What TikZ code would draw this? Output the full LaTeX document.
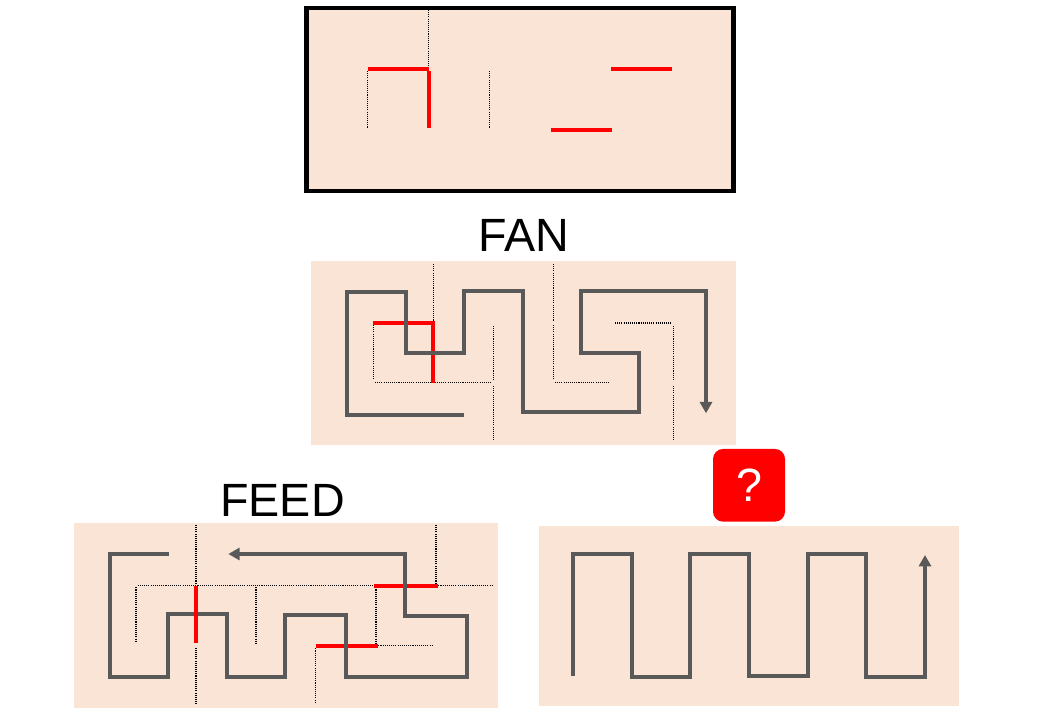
\documentclass[tikz,border=0pt]{standalone}
\usepackage{fontspec}
\setmainfont{Liberation Sans}
\usetikzlibrary{arrows.meta}
\definecolor{panelfill}{HTML}{FAE4D6}
\definecolor{routegray}{HTML}{595959}
\definecolor{hotred}{HTML}{FF0000}
\tikzset{
  panel/.style={fill=panelfill,draw=none},
  route/.style={draw=routegray,line width=3pt,line join=miter},
  routearrow/.style={route,-{Triangle[length=8.5pt,width=9pt]}},
  hot/.style={draw=hotred,line width=3.2pt},
  thin dots/.style={draw=black,line width=1pt,dash pattern=on 0.8pt off 0.8pt},
  biglabel/.style={font=\fontsize{35}{35}\selectfont,inner sep=0pt,text=black},
}
\begin{document}
\begin{tikzpicture}[x=0.75pt,y=-0.75pt]
\useasboundingbox (0,0) rectangle (1040,720);
% top panel
\draw[panel,draw=black,line width=3.2pt] (306.5,8) rectangle (733.5,191);
\draw[thin dots] (428.7,10)--(428.7,66);
\draw[thin dots] (367.7,71)--(367.7,128);
\draw[thin dots] (489.5,71)--(489.5,128);
\draw[hot] (367.7,69)--(428.5,69);
\draw[hot] (428.7,71)--(428.7,128);
\draw[hot] (611,69)--(672,69);
\draw[hot] (550.5,130)--(611.5,130);
% FAN
\node[biglabel] (fan) at (524,235.3) {FAN};
\fill[panel] (311,261) rectangle (735.7,445);
\draw[thin dots] (433.3,264)--(433.3,321);
\draw[thin dots] (373.3,325)--(373.3,380);
\draw[thin dots] (375,382.7)--(491.7,382.7);
\draw[thin dots] (493.3,325.7)--(493.3,380.7);
\draw[thin dots] (493.3,386)--(493.3,440.7);
\draw[thin dots] (553.3,264)--(553.3,320.7);
\draw[thin dots] (553.3,325)--(553.3,380);
\draw[thin dots] (555,382.7)--(610,382.7);
\draw[thin dots] (615,323)--(670.7,323);
\draw[thin dots] (673.3,325.7)--(673.3,380.7);
\draw[thin dots] (673.3,386)--(673.3,440.7);
\draw[hot] (373.3,323.3)--(434.5,323.3);
\draw[hot] (433.3,325)--(433.3,382.7);
\draw[routearrow] (464,414.7)--(347.3,414.7)--(347.3,291.7)--(405.7,291.7)--(405.7,352.7)--(464,352.7)--(464,290.7)--(522.7,290.7)--(522.7,412.3)--(639,412.3)--(639,353)--(581.3,353)--(581.3,290.7)--(706,290.7)--(706,413.3);
% FEED
\node[biglabel] (feed) at (282.5,500.5) {FEED};
\fill[panel] (73.7,523.3) rectangle (498,707.7);
\draw[thin dots] (196,525)--(196,583.3);
\draw[thin dots] (196,647.7)--(196,703.3);
\draw[thin dots] (436,525)--(436,583.3);
\draw[thin dots] (137.7,585.7)--(373.3,585.7);
\draw[thin dots] (438.3,585.7)--(493.3,585.7);
\draw[thin dots] (136,587.3)--(136,642.3);
\draw[thin dots] (256,587.3)--(256,643.3);
\draw[thin dots] (376,587.3)--(376,643.3);
\draw[thin dots] (378.3,645.7)--(432.7,645.7);
\draw[thin dots] (315.7,648.3)--(315.7,703.3);
\draw[hot] (374.3,585.7)--(437.7,585.7);
\draw[hot] (316.3,645.7)--(377.7,645.7);
\draw[routearrow] (169,554)--(110,554)--(110,677)--(167.7,677)--(167.7,614.3)--(227,614.3)--(227,677)--(285,677)--(285,614.7)--(346,614.7)--(346,677)--(467,677)--(467,615.7)--(405,615.7)--(405,554)--(228.3,554);
\draw[hot] (196,585.7)--(196,643.3);
% question
\node[fill=hotred,rounded corners=7.5pt,minimum width=54pt,minimum height=54.5pt,inner sep=0pt,text=white,font=\fontsize{35}{35}\selectfont] (q) at (749,485.3) {?};
\fill[panel] (539,526) rectangle (959,705.7);
\draw[routearrow] (572.7,676)--(572.7,554)--(631.7,554)--(631.7,677)--(690,677)--(690,554)--(749,554)--(749,675.7)--(807.7,675.7)--(807.7,554)--(866,554)--(866,677)--(925,677)--(925,555);
\end{tikzpicture}
\end{document}
